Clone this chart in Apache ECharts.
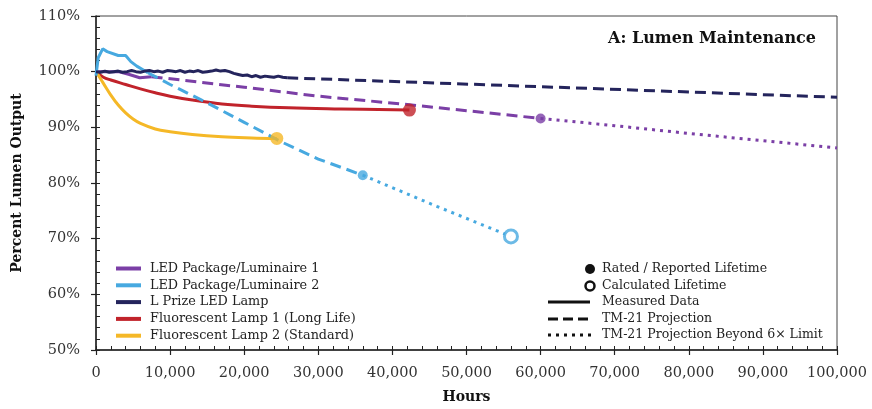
<!DOCTYPE html>
<html>
<head>
<meta charset="utf-8">
<script src="https://cdn.jsdelivr.net/npm/echarts@6/dist/echarts.min.js"></script>
<style>
  html, body { margin: 0; padding: 0; background: #fff; }
  #chart { width: 872px; height: 409px; }
</style>
</head>
<body>
<div id="chart"></div>
<script>
var seriesNames = [
  'LED Package/Luminaire 1',
  'LED Package/Luminaire 2',
  'L Prize LED Lamp',
  'Fluorescent Lamp 1 (Long Life)',
  'Fluorescent Lamp 2 (Standard)'
];
var colors = ['#7b3fa6', '#47a9e0', '#24245c', '#c1232b', '#f5b827'];
var xTicks = [0, 10000, 20000, 30000, 40000, 50000, 60000, 70000, 80000, 90000, 100000];
var yTicks = [50, 60, 70, 80, 90, 100, 110];

// [hours, percent]
var led1Measured = [[0, 100], [3000, 100], [4500, 99.5], [5900, 98.9], [7500, 99.1]];
var led1Projection = [[7500, 99.1], [20000, 97.2], [30000, 95.6], [42000, 94.1], [50000, 93.0], [60000, 91.6]];
var led1Beyond = [[60000, 91.6], [70000, 90.3], [80000, 88.9], [90000, 87.6], [100000, 86.3]];

var led2Measured = [[0, 99.3], [300, 102.5], [900, 104.1], [1500, 103.6], [3000, 102.9], [4000, 102.9],
  [4700, 101.8], [5500, 101.0], [6500, 100.2], [7000, 99.8]];
var led2Projection = [[7000, 99.8], [10000, 97.7], [15000, 94.4], [20000, 90.9], [25000, 87.4], [30000, 84.3], [36000, 81.4]];
var led2Beyond = [[36000, 81.4], [46000, 75.8], [56000, 70.4]];

var lprizeMeasured = [[0, 100.0], [600, 99.9], [1200, 100.1], [1800, 99.9], [2400, 100.0], [3000, 100.1],
  [3600, 99.9], [4200, 100.0], [4800, 100.2], [5400, 100.0], [6000, 99.9], [6600, 100.1], [7200, 100.2],
  [7800, 100.0], [8400, 100.1], [9000, 99.9], [9600, 100.2], [10200, 100.1], [10800, 100.0], [11400, 100.2],
  [12000, 99.9], [12600, 100.1], [13200, 100.0], [13800, 100.2], [14400, 99.9], [15000, 100.0], [15600, 100.1],
  [16200, 100.3], [16800, 100.1], [17400, 100.2], [18000, 100.0], [18600, 99.7], [19200, 99.5], [19800, 99.3],
  [20400, 99.4], [21000, 99.1], [21600, 99.3], [22200, 99.0], [22800, 99.2], [23400, 99.1], [24000, 99.0],
  [24600, 99.2], [25200, 99.0], [25800, 98.9]];
var lprizeProjection = [[25800, 98.9], [60000, 97.3], [100000, 95.4]];

var fluor1Measured = [[0, 100], [1000, 99.0], [2000, 98.5], [4000, 97.7], [6000, 96.9], [8000, 96.2],
  [10000, 95.6], [13000, 94.9], [17000, 94.2], [21000, 93.8], [26000, 93.5], [33000, 93.3], [42300, 93.1]];
var fluor2Measured = [[0, 100], [1000, 97.9], [2000, 95.8], [3000, 94.0], [4000, 92.6], [5000, 91.5],
  [6000, 90.7], [8000, 89.7], [10000, 89.2], [13000, 88.7], [17000, 88.3], [21000, 88.1], [24400, 88.0]];

// lifetime markers: [hours, percent, series index]
var ratedPoints = [[42300, 93.1, 3], [24400, 88.0, 4], [60000, 91.6, 0], [36000, 81.4, 1]];
var calculatedPoints = [[56000, 70.4, 1]];

var FONT = 'DejaVu Serif';

function lineSeries(idx, data, type, smooth) {
  var dash = type === 'dash' ? [11, 6] : type === 'dot' ? [3, 5] : 'solid';
  // projection parts get their own names so they never share state with the measured line
  var name = type === 'solid' ? seriesNames[idx] : seriesNames[idx] + ' - ' + type;
  return {
    type: 'line',
    name: name,
    data: data,
    showSymbol: false,
    symbol: 'none',
    smooth: smooth ? 0.4 : false,
    xAxisIndex: 0,
    yAxisIndex: 0,
    lineStyle: { color: colors[idx], width: 3, type: dash, cap: 'butt' },
    itemStyle: { color: colors[idx] },
    z: idx === 2 ? 4 : 3,
    silent: true
  };
}

var series = [
  lineSeries(0, led1Measured, 'solid'),
  lineSeries(0, led1Projection, 'dash'),
  lineSeries(0, led1Beyond, 'dot'),
  lineSeries(3, fluor1Measured, 'solid', true),
  lineSeries(4, fluor2Measured, 'solid', true),
  lineSeries(1, led2Measured, 'solid'),
  lineSeries(1, led2Projection, 'dash'),
  lineSeries(1, led2Beyond, 'dot'),
  lineSeries(2, lprizeMeasured, 'solid'),
  lineSeries(2, lprizeProjection, 'dash')
];

series.push({
  type: 'scatter',
  name: 'Rated / Reported Lifetime',
  data: ratedPoints.map(function(p) {
    return {
      value: [p[0], p[1]],
      symbolSize: p[2] >= 3 ? 13 : 10,
      itemStyle: { color: colors[p[2]] }
    };
  }),
  z: 6,
  silent: true
});
series.push({
  type: 'scatter',
  name: 'Calculated Lifetime',
  data: calculatedPoints.map(function(p) {
    return {
      value: [p[0], p[1]],
      itemStyle: { color: '#fff', borderColor: colors[p[2]], borderWidth: 3 }
    };
  }),
  symbolSize: 13,
  z: 6,
  silent: true
});

var legendKeyX = 548, legendKeyEnd = 590, legendTextX = 602;
var rightRows = [269, 286, 302, 319, 335];
var rightLabels = ['Rated / Reported Lifetime', 'Calculated Lifetime', 'Measured Data',
  'TM-21 Projection', 'TM-21 Projection Beyond 6\u00d7 Limit'];

var graphic = [];
graphic.push({ type: 'circle', shape: { cx: legendKeyEnd, cy: rightRows[0], r: 5 }, style: { fill: '#111' } });
graphic.push({ type: 'circle', shape: { cx: legendKeyEnd, cy: rightRows[1], r: 4.5 }, style: { fill: 'none', stroke: '#111', lineWidth: 2.5 } });
graphic.push({ type: 'line', shape: { x1: legendKeyX, y1: rightRows[2], x2: legendKeyEnd, y2: rightRows[2] }, style: { stroke: '#111', lineWidth: 3 } });
graphic.push({ type: 'line', shape: { x1: legendKeyX, y1: rightRows[3], x2: legendKeyEnd + 2, y2: rightRows[3] }, style: { stroke: '#111', lineWidth: 3, lineDash: [10, 5] } });
graphic.push({ type: 'line', shape: { x1: legendKeyX, y1: rightRows[4], x2: legendKeyEnd + 2, y2: rightRows[4] }, style: { stroke: '#111', lineWidth: 3, lineDash: [3, 5] } });
for (var i = 0; i < rightLabels.length; i++) {
  graphic.push({
    type: 'text',
    x: legendTextX,
    y: rightRows[i],
    style: {
      text: rightLabels[i],
      fill: '#222',
      font: '12.5px "' + FONT + '"',
      verticalAlign: 'middle'
    }
  });
}

var option = {
  animation: false,
  backgroundColor: '#fff',
  title: {
    text: 'A: Lumen Maintenance',
    right: 51,
    top: 26,
    textStyle: { fontFamily: FONT, fontSize: 16, fontWeight: 'bold', color: '#111' }
  },
  legend: {
    orient: 'vertical',
    left: 116,
    top: 262,
    padding: 0,
    itemWidth: 25,
    itemHeight: 4,
    itemGap: 3.8,
    selectedMode: false,
    textStyle: { fontFamily: FONT, fontSize: 12.8, color: '#222', padding: [0, 0, 0, 4] },
    data: seriesNames.map(function(n, k) {
      return { name: n, icon: 'rect', itemStyle: { color: colors[k] } };
    })
  },
  grid: {
    left: 96, right: 35, top: 16, bottom: 52,
    show: true, borderColor: '#444', borderWidth: 1
  },
  xAxis: [{
    type: 'value',
    position: 'bottom',
    min: xTicks[0],
    max: xTicks[xTicks.length - 1],
    interval: xTicks[1] - xTicks[0],
    name: 'Hours',
    nameLocation: 'middle',
    nameGap: 40,
    nameTextStyle: { fontFamily: FONT, fontSize: 14, fontWeight: 'bold', color: '#111' },
    axisLine: { show: true, lineStyle: { color: '#222', width: 1.5 } },
    axisTick: { show: true, length: 5, lineStyle: { color: '#222', width: 1.2 } },
    axisLabel: {
      margin: 16,
      fontFamily: FONT, fontSize: 14.5, color: '#333',
      formatter: function(v) { return v.toLocaleString('en-US'); }
    },
    splitLine: { show: false }
  }, {
    type: 'value',
    position: 'bottom',
    offset: 0,
    min: 0,
    max: 100000,
    interval: 2000,
    axisLine: { show: false },
    axisTick: { show: true, inside: true, length: 4, lineStyle: { color: '#222', width: 1 } },
    axisLabel: { show: false },
    splitLine: { show: false }
  }],
  yAxis: [{
    type: 'value',
    position: 'left',
    min: yTicks[0],
    max: yTicks[yTicks.length - 1],
    interval: yTicks[1] - yTicks[0],
    name: 'Percent Lumen Output',
    nameLocation: 'middle',
    nameGap: 72,
    nameTextStyle: { fontFamily: FONT, fontSize: 14, fontWeight: 'bold', color: '#111' },
    axisLine: { show: true, lineStyle: { color: '#222', width: 1.5 } },
    axisTick: { show: true, length: 5, lineStyle: { color: '#222', width: 1.2 } },
    axisLabel: {
      margin: 16,
      fontFamily: FONT, fontSize: 14.5, color: '#333',
      formatter: function(v) { return v + '%'; }
    },
    splitLine: { show: false }
  }, {
    type: 'value',
    position: 'left',
    offset: 0,
    min: 50,
    max: 110,
    interval: 2,
    axisLine: { show: false },
    axisTick: { show: true, inside: true, length: 4, lineStyle: { color: '#222', width: 1 } },
    axisLabel: { show: false },
    splitLine: { show: false }
  }],
  graphic: graphic,
  series: series
};

var chart = echarts.init(document.getElementById('chart'));
chart.setOption(option);
</script>
</body>
</html>
